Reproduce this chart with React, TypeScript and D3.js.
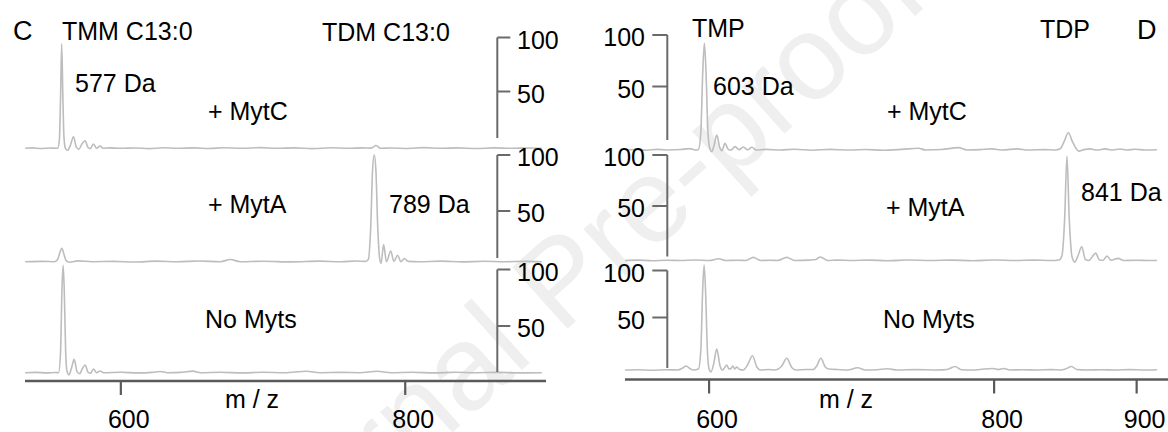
import React from "react";
import * as d3 from "d3";

const W = 1168;
const H = 432;

// ---------- data ----------
const LEFT_X_TICKS = [600, 800];
const RIGHT_X_TICKS = [600, 800, 900];
const Y_TICKS = [50, 100];
const ROW_LABELS = ["+ MytC", "+ MytA", "No Myts"];
const LEFT_TITLES = ["TMM C13:0", "TDM C13:0"];
const RIGHT_TITLES = ["TMP", "TDP"];
const LEFT_PEAK_LABELS = ["577 Da", "789 Da"];
const RIGHT_PEAK_LABELS = ["603 Da", "841 Da"];
const PANEL_LETTERS = ["C", "D"];
const X_TITLE = "m / z";
const WATERMARK = "Journal Pre-proof";

// spectra: [m/z, relative intensity]
const LEFT_MYTC: [number, number][] = [
  [532.7, 0], [538, 0.4], [544, -0.2], [550, 0.3], [555.5, 0], [556.8, 8], [557.6, 45], [558.4, 94],
  [559.2, 48], [560, 10], [561, 0], [562.6, -1.8], [564.6, 3], [566.7, 10.4], [568.7, 1], [570.5, -0.8],
  [572.7, 4], [574.9, 6.8], [577, 0.5], [578.6, -0.3], [580.7, 3.9], [583, 0], [585.4, 2.1], [587.5, 0],
  [592, 0.4], [600, 0], [610, 0.3], [620, -0.3], [630, 0.5], [640, 0], [652, 0.4], [662, -0.2],
  [672, 0.5], [685, 0], [698, 0.6], [710, 0], [722, 0.4], [735, -0.3], [748, 0.5], [760, 0],
  [770, 0.4], [776, 0.2], [779.5, 2.5], [782.5, 0], [790, 0.3], [802, -0.2], [813, 0.6], [825, 0],
  [837, 0.4], [850, -0.2], [862, 0.4], [875, 0], [887, 0.3], [896, 0],
];
const LEFT_MYTA: [number, number][] = [
  [532.7, 0], [545, 0.3], [553.5, 0], [555.5, 2], [557, 8], [558.5, 12.6], [560, 7], [561.5, 1],
  [564, -0.5], [570, 0.8], [580, 0], [595, 0.3], [610, -0.3], [625, 0.5], [640, 0], [655, 0.6],
  [670, 0], [677, 2], [684, 0], [700, 0.4], [720, -0.2], [740, 0.5], [755, 0], [765, 0.6], [772, 0.3],
  [774, 2], [775.8, 35], [777, 85], [778.2, 100], [779.4, 85], [780.6, 35], [782, 3], [783, -1.5],
  [784.8, 16], [786.8, 0], [789.8, 10], [792, 0.3], [794.6, 6], [797, 0], [799.5, 3], [802, 0.3],
  [810, 0], [825, 0.5], [840, -0.2], [855, 0.4], [870, 0], [885, 0.3], [896, 0],
];
const LEFT_NOMYTS: [number, number][] = [
  [532.7, 0], [540, 0.3], [548, -0.2], [554, 0.2], [556.2, 0], [557.6, 20], [558.6, 80], [559.4, 103.5],
  [560.2, 80], [561.2, 20], [562.2, 1], [563.6, -2], [565.4, 5], [567.2, 12.9], [569.2, 1], [571, -1],
  [573, 4], [574.9, 7.4], [577, 0.3], [578.7, -0.5], [580.7, 3.6], [583, 0], [585.4, 1.6], [588, 0],
  [600, 0.4], [612, -0.2], [622, 0.3], [627.6, 1.2], [633, 0], [642, 0.3], [650.8, 1.5], [656, 0],
  [670, 0.4], [685, -0.2], [700, 0.4], [715, 0], [730.5, 1.4], [740, 0], [755, 0.3], [768, 0],
  [780.3, 1.4], [790, 0], [805, 0.4], [820, -0.2], [835, 0.4], [850, 0], [865, 0.3], [880, -0.2], [896, 0],
];
const RIGHT_MYTC: [number, number][] = [
  [541, 0], [548, 0.4], [556, -0.2], [564, 0.5], [572, 0], [580, 0.4], [586.7, 1.2], [590, 0],
  [592.5, 0.5], [594.2, 15], [595.5, 65], [596.7, 91.4], [597.9, 65], [599.2, 15], [600.6, 1],
  [601.9, -1.5], [603.5, 4], [605.4, 12.9], [607.5, 2], [609, -0.5], [611.2, 5.7], [613.5, 0.5],
  [615.5, 0], [618.2, 2.9], [621, 0.3], [624, 2.6], [627, 0.2], [630, 2.3], [633, 0], [640, 0.5],
  [650, 0], [660, 0.6], [672, -0.2], [685, 0.5], [698, 0], [710, 0.4], [722, -0.2], [735, 0.5],
  [746.9, 1.5], [752, 0], [763, 0.4], [775, 2], [781, 0], [790, 0.3], [798.4, 1], [806, 0], [816, 1],
  [824, 0], [835, 0.3], [843, 0], [846.3, 1], [849, 7], [852.1, 14.8], [855, 7], [858, 0.5],
  [859.5, -1], [863, 0.3], [867.4, 1], [872, 0], [878, 1], [883, 0], [888.4, 0.8], [893, 0],
  [899, 0.6], [906, 0], [914.3, 0.2],
];
const RIGHT_MYTA: [number, number][] = [
  [541, 0], [550, 0.4], [560, -0.2], [570, 0.3], [580, 0], [590, 0.5], [600, 0], [606.8, 1.6],
  [612, 0], [620, 0.3], [626, 0], [631, 3], [636, 0], [643, 0.3], [648, 0], [654.5, 3], [660, 0],
  [670, 0.4], [675, 1], [678, 3.3], [680.5, 1.8], [683, 0], [690, 0.4], [700, 0], [712, 0.4],
  [725, -0.2], [740, 0.5], [755, 0], [770, 0.4], [785, -0.2], [800, 0.5], [815, 0], [828, 0.4],
  [840, 0], [845.5, 0.5], [847.5, 4], [849.5, 40], [851.1, 99], [852.7, 40], [854.6, 4], [856.5, -1.5],
  [858.7, 4], [861.5, 13], [864, 1], [866.5, 0], [868.8, 3.5], [871.2, 7], [874, 0.5], [876.5, 0.3],
  [879.2, 4.3], [882, 0.2], [887, 2], [891, 0], [900, 0.3], [908, 0], [914.3, 0],
];
const RIGHT_NOMYTS: [number, number][] = [
  [541, 0], [550, 0.3], [560, -0.2], [570, 0.3], [578, 0], [581.5, 2], [583.9, 4], [586.5, 1.5],
  [589, 0], [592.5, 1], [594.2, 20], [595.5, 80], [596.5, 105], [597.5, 80], [598.8, 20], [600, 1],
  [601.3, -2], [603.2, 6], [605.4, 21], [607.7, 4], [609.3, 0], [611, 2.5], [612.4, 5], [614, 1],
  [615.3, 1.5], [616.6, 4], [618, 1], [619.4, 3], [621.5, 0.5], [624, 0], [627.3, 6], [630.4, 14.3],
  [633.5, 3], [636, 0], [642, 0.5], [646, 0], [651, 4], [654.5, 11.7], [658, 2.5], [661, 0],
  [668, 0.5], [673, 0.5], [675.5, 4], [678.4, 11.7], [681.5, 3], [684, 1], [690, 0.5], [697, 0],
  [704.2, 2.2], [710, 0], [718, 0.3], [725.3, 1.2], [732, 0], [745, 0.4], [760, 0], [767, 0.5],
  [772.6, 3.5], [777, 0.3], [785, 0], [790, 0.5], [799, 1.5], [803, 0.5], [806.8, 1.5], [811, 0],
  [820, 0.3], [830, 0], [840, 0.4], [847, 0], [850, 1], [854.3, 3.5], [858, 0.5], [865, 0],
  [875, 0.3], [885, 0], [895, 0.4], [905, 0], [914.3, 0.3],
];

const LEFT_SPECTRA = [LEFT_MYTC, LEFT_MYTA, LEFT_NOMYTS];
const RIGHT_SPECTRA = [RIGHT_MYTC, RIGHT_MYTA, RIGHT_NOMYTS];

// ---------- layout ----------
const FONT = "'Liberation Sans', Arial, Helvetica, sans-serif";
const FS = 25;
const SPEC_COLOR = "#bdbdbd";
const AXIS_COLOR = "#5a5a5a";

const LEFT = {
  xDomain: [532.6, 899],
  xRange: [25, 546],
  axisY: 381,
  yAxisX: 497.3,
  yTickDir: 1,
  yTickLen: 13,
  yLabelX: 517,
  yAnchor: "start",
  rows: [
    { base: 148.3, dTop: 37, t100: 37.5, t50: 91.5, lineBottom: 138 },
    { base: 261.7, dTop: 155, t100: 155, t50: 211, lineBottom: 258 },
    { base: 372.7, dTop: 269, t100: 269.5, t50: 326, lineBottom: 372 },
  ],
  rowLabelPos: [[208, 120], [208, 213], [205, 328]],
  titlePos: [[62, 40], [322, 41]],
  peakLabelPos: [[75, 92], [389, 213]],
  letterPos: [13, 40],
  xTitleX: 252,
};

const RIGHT = {
  xDomain: [541, 922],
  xRange: [625, 1168],
  axisY: 379.5,
  yAxisX: 667.3,
  yTickDir: -1,
  yTickLen: 15,
  yLabelX: 645,
  yAnchor: "end",
  rows: [
    { base: 150, dTop: 33.3, t100: 35, t50: 86.5, lineBottom: 140 },
    { base: 260.5, dTop: 155, t100: 155, t50: 206, lineBottom: 256.5 },
    { base: 370, dTop: 270, t100: 270.5, t50: 317.5, lineBottom: 368 },
  ],
  rowLabelPos: [[887, 120], [886, 216], [883, 328]],
  titlePos: [[692, 37], [1040, 38]],
  peakLabelPos: [[713, 95], [1081, 201]],
  letterPos: [1137, 39],
  xTitleX: 846,
};

function Panel({ cfg, spectra, xTicks, titles, peakLabels, letter }: any) {
  const x = d3.scaleLinear().domain(cfg.xDomain).range(cfg.xRange);
  return (
    <g>
      {spectra.map((data: [number, number][], i: number) => {
        const r = cfg.rows[i];
        const y = d3.scaleLinear().domain([0, 100]).range([r.base, r.dTop]);
        const line = d3
          .line<[number, number]>()
          .x((d) => x(d[0]))
          .y((d) => y(d[1]))
          .curve(d3.curveMonotoneX);
        return (
          <path key={"s" + i} d={line(data) || ""} fill="none" stroke={SPEC_COLOR} strokeWidth={1.6} />
        );
      })}
      {cfg.rows.map((r: any, i: number) => {
        const ya = d3.scaleLinear().domain([50, 100]).range([r.t50, r.t100]);
        return (
          <g key={"ya" + i}>
            <line x1={cfg.yAxisX} x2={cfg.yAxisX} y1={ya(100)} y2={r.lineBottom} stroke="#6a6a6a" strokeWidth={2} />
            {Y_TICKS.map((t) => (
              <g key={t}>
                <line
                  x1={cfg.yAxisX}
                  x2={cfg.yAxisX + cfg.yTickDir * cfg.yTickLen}
                  y1={ya(t)}
                  y2={ya(t)}
                  stroke="#6a6a6a"
                  strokeWidth={2}
                />
                <text x={cfg.yLabelX} y={ya(t) + 11} textAnchor={cfg.yAnchor} fontSize={FS} fontFamily={FONT} fill="#000">
                  {t}
                </text>
              </g>
            ))}
          </g>
        );
      })}
      <line x1={cfg.xRange[0]} x2={cfg.xRange[1]} y1={cfg.axisY} y2={cfg.axisY} stroke={AXIS_COLOR} strokeWidth={2.5} />
      {xTicks.map((t: number) => (
        <g key={"xt" + t}>
          <line x1={x(t)} x2={x(t)} y1={cfg.axisY} y2={cfg.axisY + 14} stroke={AXIS_COLOR} strokeWidth={2.2} />
          <text x={x(t) + 8} y={428} textAnchor="middle" fontSize={FS} fontFamily={FONT} fill="#000">
            {t}
          </text>
        </g>
      ))}
      <text x={cfg.xTitleX} y={408} textAnchor="middle" fontSize={FS} fontFamily={FONT} fill="#000">
        {X_TITLE}
      </text>
      {ROW_LABELS.map((l, i) => (
        <text key={"rl" + i} x={cfg.rowLabelPos[i][0]} y={cfg.rowLabelPos[i][1]} fontSize={FS} fontFamily={FONT} fill="#000">
          {l}
        </text>
      ))}
      {titles.map((l: string, i: number) => (
        <text key={"ti" + i} x={cfg.titlePos[i][0]} y={cfg.titlePos[i][1]} fontSize={FS} fontFamily={FONT} fill="#000">
          {l}
        </text>
      ))}
      {peakLabels.map((l: string, i: number) => (
        <text key={"pl" + i} x={cfg.peakLabelPos[i][0]} y={cfg.peakLabelPos[i][1]} fontSize={FS} fontFamily={FONT} fill="#000">
          {l}
        </text>
      ))}
      <text x={cfg.letterPos[0]} y={cfg.letterPos[1]} fontSize={27} fontFamily={FONT} fill="#000">
        {letter}
      </text>
    </g>
  );
}

export default function App() {
  return (
    <svg
      width={W}
      height={H}
      viewBox={`0 0 ${W} ${H}`}
      style={{ position: "absolute", left: 0, top: 0, display: "block", background: "#fff" }}
    >
      <rect x={0} y={0} width={W} height={H} fill="#fff" />
      <text
        transform="translate(243,621) rotate(-42)"
        fontSize={120}
        fontFamily={FONT}
        fill="#efefef"
      >
        {WATERMARK}
      </text>
      <Panel
        cfg={LEFT}
        spectra={LEFT_SPECTRA}
        xTicks={LEFT_X_TICKS}
        titles={LEFT_TITLES}
        peakLabels={LEFT_PEAK_LABELS}
        letter={PANEL_LETTERS[0]}
      />
      <Panel
        cfg={RIGHT}
        spectra={RIGHT_SPECTRA}
        xTicks={RIGHT_X_TICKS}
        titles={RIGHT_TITLES}
        peakLabels={RIGHT_PEAK_LABELS}
        letter={PANEL_LETTERS[1]}
      />
    </svg>
  );
}
